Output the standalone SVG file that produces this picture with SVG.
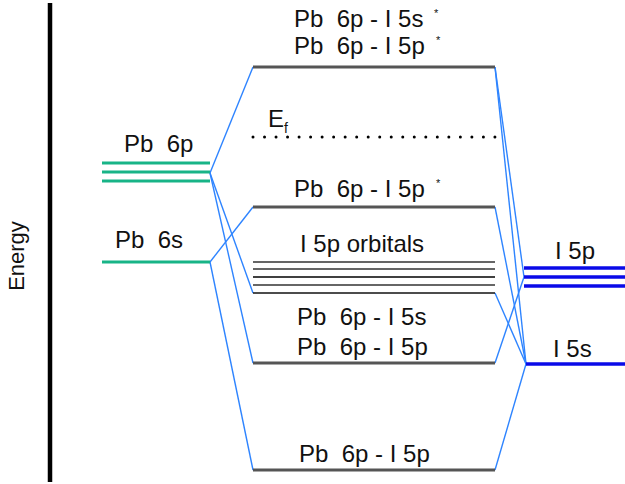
<svg xmlns="http://www.w3.org/2000/svg" width="625" height="484" viewBox="0 0 625 484">
<style>
text{font-family:"Liberation Sans",Arial,sans-serif;fill:#111;white-space:pre;}
.lbl{font-size:24px;}
.sup{font-size:11px;}
.pb{stroke:#18b487;stroke-width:3;}
.iv{stroke:#0a0ae8;stroke-width:3.5;}
.mo{stroke:#555;stroke-width:3;}
.orb{stroke-width:1.5;}
.conn line{stroke:#2e84ff;stroke-width:1.4;}
</style>
<rect width="625" height="484" fill="#fff"/>
<g id="axis">
<line x1="50" y1="3" x2="50" y2="482" stroke="#000" stroke-width="4.5"/>
<text class="lbl" transform="rotate(-90 24 256)" x="24" y="256" text-anchor="middle" style="font-size:22px">Energy</text>
</g>
<g class="conn" id="connectors">
<line x1="210" y1="173" x2="253" y2="67"/>
<line x1="210" y1="173" x2="253" y2="293"/>
<line x1="210" y1="173" x2="253" y2="363"/>
<line x1="210" y1="262" x2="253" y2="207"/>
<line x1="210" y1="262" x2="253" y2="470"/>
<line x1="495" y1="67" x2="524" y2="277"/>
<line x1="495" y1="67" x2="526" y2="364"/>
<line x1="495" y1="207" x2="526" y2="364"/>
<line x1="495" y1="293" x2="526" y2="364"/>
<line x1="495" y1="363" x2="524" y2="277"/>
<line x1="495" y1="470" x2="526" y2="364"/>
</g>
<g id="pb6p">
<line class="pb" x1="102" y1="163" x2="210" y2="163"/>
<line class="pb" x1="102" y1="172" x2="210" y2="172"/>
<line class="pb" x1="102" y1="181" x2="210" y2="181"/>
<text class="lbl" x="124" y="152" xml:space="preserve">Pb  6p</text>
</g>
<g id="pb6s">
<line class="pb" x1="102" y1="262" x2="210" y2="262"/>
<text class="lbl" x="115" y="248" xml:space="preserve">Pb  6s</text>
</g>
<g id="mo-top">
<line class="mo" x1="253" y1="67" x2="495" y2="67"/>
<text class="lbl" x="294" y="27" xml:space="preserve">Pb  6p - I 5s</text>
<text class="sup" x="434" y="17">*</text>
<text class="lbl" x="294" y="54" xml:space="preserve">Pb  6p - I 5p</text>
<text class="sup" x="436" y="44">*</text>
</g>
<g id="fermi">
<text class="lbl" x="268" y="127">E</text>
<text x="284" y="133" style="font-size:14px">f</text>
<line x1="253" y1="137" x2="495" y2="137" stroke="#000" stroke-width="3" stroke-linecap="round" stroke-dasharray="0 11.52"/>
</g>
<g id="mo-antibonding">
<line class="mo" x1="253" y1="207" x2="495" y2="207"/>
<text class="lbl" x="294" y="197" xml:space="preserve">Pb  6p - I 5p</text>
<text class="sup" x="436" y="187">*</text>
</g>
<g id="i5p-orbitals">
<text class="lbl" x="300" y="252">I 5p orbitals</text>
<line class="orb" x1="253" y1="262" x2="495" y2="262" stroke="#333"/>
<line class="orb" x1="253" y1="269" x2="495" y2="269" stroke="#333"/>
<line class="orb" x1="253" y1="277" x2="495" y2="277" stroke="#000"/>
<line class="orb" x1="253" y1="285" x2="495" y2="285" stroke="#333"/>
<line class="orb" x1="253" y1="293" x2="495" y2="293" stroke="#111"/>
</g>
<g id="mo-bonding">
<line class="mo" x1="253" y1="363" x2="495" y2="363"/>
<text class="lbl" x="297" y="325" xml:space="preserve">Pb  6p - I 5s</text>
<text class="lbl" x="297" y="355" xml:space="preserve">Pb  6p - I 5p</text>
</g>
<g id="mo-bottom">
<line class="mo" x1="253" y1="470" x2="495" y2="470"/>
<text class="lbl" x="299" y="462" xml:space="preserve">Pb  6p - I 5p</text>
</g>
<g id="i5p">
<line class="iv" x1="524" y1="268" x2="625" y2="268"/>
<line class="iv" x1="524" y1="277" x2="625" y2="277"/>
<line class="iv" x1="524" y1="286" x2="625" y2="286"/>
<text class="lbl" x="555" y="259">I 5p</text>
</g>
<g id="i5s">
<line class="iv" x1="526" y1="364" x2="625" y2="364"/>
<text class="lbl" x="553" y="357">I 5s</text>
</g>
</svg>
